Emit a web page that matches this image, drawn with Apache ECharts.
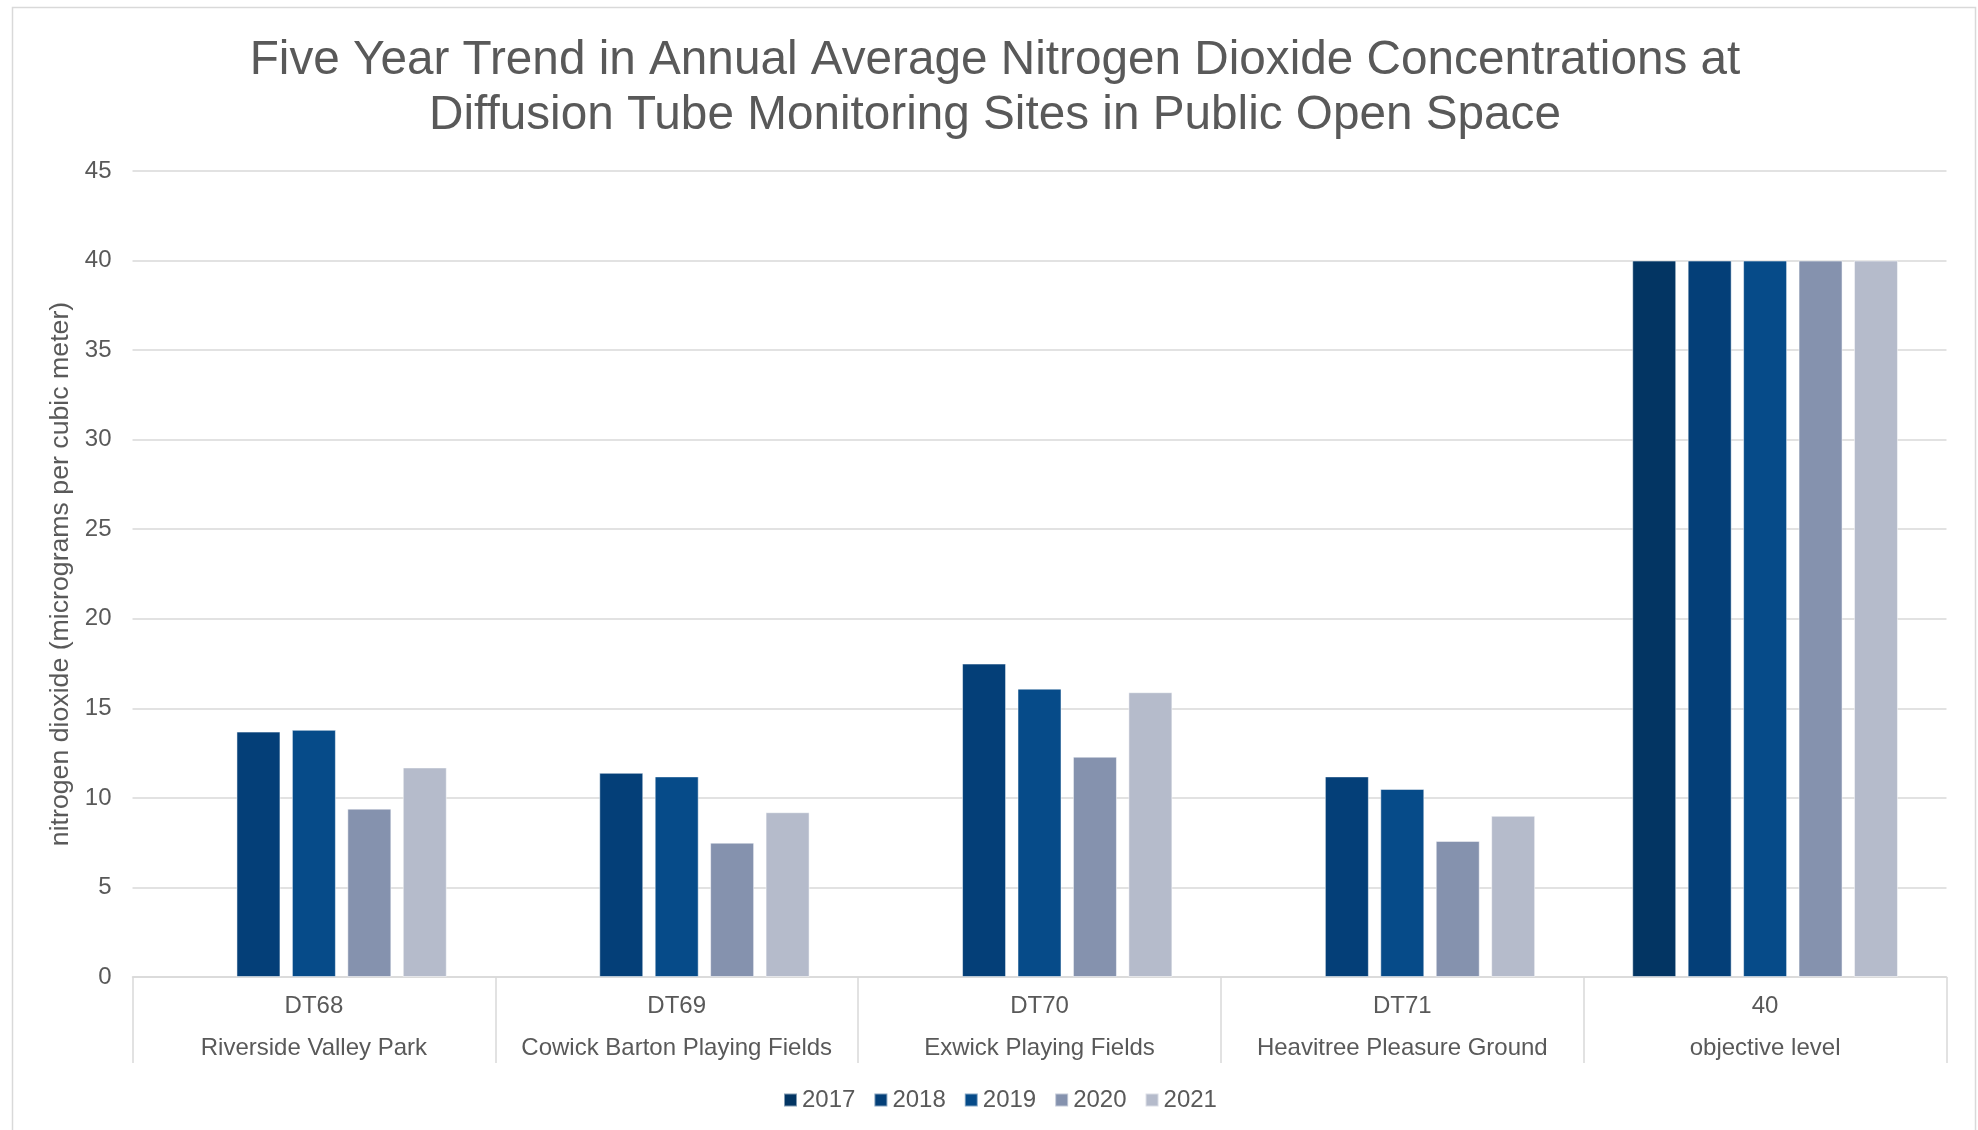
<!DOCTYPE html>
<html>
<head>
<meta charset="utf-8">
<title>Nitrogen Dioxide Five Year Trend</title>
<script src="https://cdn.jsdelivr.net/npm/echarts@6/dist/echarts.min.js"></script>
<style>
  html, body { margin: 0; padding: 0; background: #ffffff; }
  #chart { width: 1978px; height: 1130px; }
</style>
</head>
<body>
<div id="chart"></div>
<script>
// Site codes and names (two-level category labels)
const siteCodes = ['DT68', 'DT69', 'DT70', 'DT71', '40'];
const siteNames = ['Riverside Valley Park', 'Cowick Barton Playing Fields', 'Exwick Playing Fields', 'Heavitree Pleasure Ground', 'objective level'];

// Annual average NO2 (µg/m³) per year; null where no measurement
const years = ['2017', '2018', '2019', '2020', '2021'];
const values2017 = [null, null, null, null, 40];
const values2018 = [13.7, 11.4, 17.5, 11.2, 40];
const values2019 = [13.8, 11.2, 16.1, 10.5, 40];
const values2020 = [9.4, 7.5, 12.3, 7.6, 40];
const values2021 = [11.7, 9.2, 15.9, 9.0, 40];

// Y axis ticks
const yMin = 0, yMax = 45, yStep = 5;

const seriesValues = [values2017, values2018, values2019, values2020, values2021];
const seriesColors = ['#033563', '#043f78', '#064b89', '#8592ae', '#b5bbcb'];

const textColor = '#595959';
const gridColor = '#d9d9d9';
const fontFamily = 'Liberation Sans, Arial, sans-serif';

const categories = siteCodes.map((c, i) => c + '\n' + siteNames[i]);

const chart = echarts.init(document.getElementById('chart'), null, { renderer: 'canvas' });

chart.setOption({
  backgroundColor: '#ffffff',
  animation: false,
  textStyle: { fontFamily: fontFamily },
  title: {
    text: 'Five Year Trend in Annual Average Nitrogen Dioxide Concentrations at\nDiffusion Tube Monitoring Sites in Public Open Space',
    left: 995,
    textAlign: 'center',
    top: 33,
    padding: 0,
    textStyle: {
      color: textColor,
      fontSize: 47.7,
      fontWeight: 'normal',
      lineHeight: 55,
      fontFamily: fontFamily
    }
  },
  graphic: [{
    type: 'rect',
    silent: true,
    shape: { x: 12.5, y: 7.5, width: 1963, height: 1140 },
    style: { fill: 'none', stroke: gridColor, lineWidth: 1.5 }
  }],
  legend: {
    data: years,
    left: 783,
    top: 1088,
    padding: 0,
    icon: 'rect',
    itemWidth: 13,
    itemHeight: 13,
    itemGap: 18,
    textStyle: { color: textColor, fontSize: 24, fontFamily: fontFamily }
  },
  grid: {
    left: 132.5,
    right: 31.5,
    top: 171,
    bottom: 153,
    containLabel: false
  },
  xAxis: {
    type: 'category',
    data: categories,
    axisLine: { show: true, lineStyle: { color: gridColor, width: 1.5 } },
    axisTick: {
      show: true,
      interval: 0,
      length: 86,
      alignWithLabel: false,
      lineStyle: { color: gridColor, width: 1.5 }
    },
    axisLabel: {
      interval: 0,
      margin: 8,
      color: textColor,
      fontSize: 24,
      lineHeight: 42,
      fontFamily: fontFamily
    }
  },
  yAxis: {
    type: 'value',
    min: yMin,
    max: yMax,
    interval: yStep,
    name: 'nitrogen dioxide (micrograms per cubic meter)',
    nameLocation: 'middle',
    nameGap: 49,
    nameTextStyle: { color: textColor, fontSize: 26.7, fontFamily: fontFamily },
    axisLine: { show: false },
    axisTick: { show: false },
    axisLabel: { color: textColor, fontSize: 24, margin: 21, fontFamily: fontFamily },
    splitLine: { show: true, lineStyle: { color: gridColor, width: 1.5 } }
  },
  series: years.map((y, i) => ({
    name: y,
    type: 'bar',
    data: seriesValues[i],
    barWidth: 44,
    barGap: '26%',
    itemStyle: {
      color: seriesColors[i],
      borderColor: 'rgba(255,255,255,0.5)',
      borderWidth: 1
    }
  }))
});
</script>
</body>
</html>
